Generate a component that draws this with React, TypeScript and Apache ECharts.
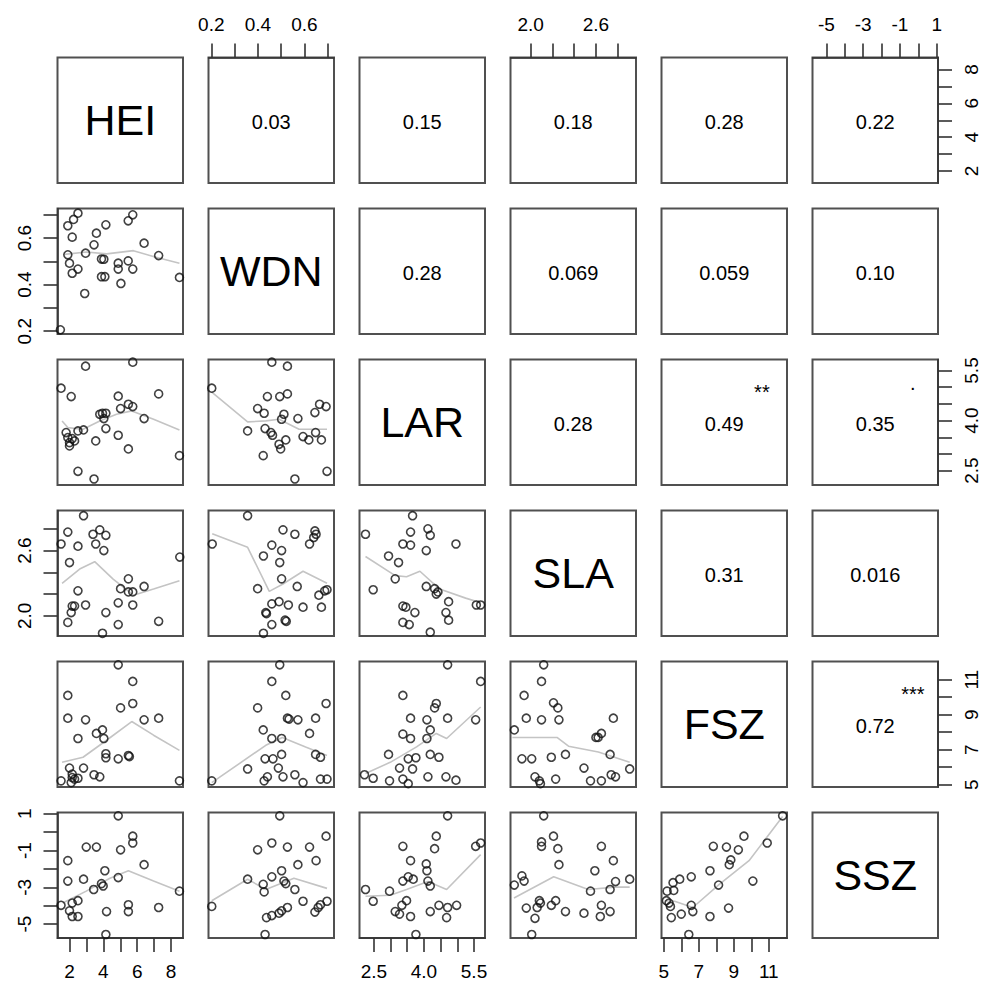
import React, { useEffect, useRef } from 'react';
import * as echarts from 'echarts';

type P = [number, number][];

const VARS = ['HEI', 'WDN', 'LAR', 'SLA', 'FSZ', 'SSZ'];
const AXIS_MIN = [1.29, 0.188, 2.07, 1.815, 4.87, -5.76];
const AXIS_MAX = [8.71, 0.727, 5.83, 2.968, 12.04, 1.07];
const TICKS = [
  [2, 3, 4, 5, 6, 7, 8],
  [0.2, 0.3, 0.4, 0.5, 0.6, 0.7],
  [2.5, 3.0, 3.5, 4.0, 4.5, 5.0, 5.5],
  [2.0, 2.2, 2.4, 2.6, 2.8],
  [5, 6, 7, 8, 9, 10, 11],
  [-5, -4, -3, -2, -1, 0, 1],
];
const TICK_LABELS = [
  [2, 4, 6, 8],
  [0.2, 0.4, 0.6],
  [2.5, 4.0, 5.5],
  [2.0, 2.6],
  [5, 7, 9, 11],
  [-5, -3, -1, 1],
];
const DECIMALS = [0, 1, 1, 1, 0, 0];

// upper-triangle correlation texts, row by row
const CORR_ROW1 = ['0.03', '0.15', '0.18', '0.28', '0.22'];
const CORR_ROW2 = ['0.28', '0.069', '0.059', '0.10'];
const CORR_ROW3 = ['0.28', '0.49', '0.35'];
const CORR_ROW4 = ['0.31', '0.016'];
const CORR_ROW5 = ['0.72'];
const CORR = [CORR_ROW1, CORR_ROW2, CORR_ROW3, CORR_ROW4, CORR_ROW5];
// significance marks: [row, col, text]
const STARS: [number, number, string][] = [
  [2, 4, '**'],
  [2, 5, '.'],
  [4, 5, '***'],
];

// scatter points [x, y]
const wdn_hei: P = [[1.46,0.206],[1.9,0.653],[2.24,0.68],[2.5,0.707],[2.16,0.604],[1.9,0.528],[2.0,0.492],[2.16,0.449],[2.5,0.467],[2.9,0.362],[2.95,0.535],[3.45,0.571],[3.59,0.621],[4.15,0.657],[3.89,0.51],[4.03,0.509],[3.89,0.434],[4.09,0.434],[4.88,0.492],[4.88,0.467],[5.04,0.405],[5.47,0.502],[5.74,0.467],[5.47,0.674],[5.74,0.7],[6.41,0.578],[7.27,0.525],[8.5,0.431]];
const lar_hei: P = [[2.95,5.63],[5.74,5.75],[1.5,4.97],[2.1,4.72],[4.88,4.73],[5.48,4.49],[5.02,4.36],[5.74,4.42],[7.27,4.8],[3.79,4.19],[3.95,4.22],[4.15,4.22],[4.03,4.06],[6.41,4.06],[4.15,3.76],[2.83,3.72],[2.5,3.69],[1.8,3.64],[1.9,3.49],[2.16,3.46],[2.0,3.34],[2.3,3.39],[2.0,3.24],[3.55,3.39],[4.88,3.56],[5.48,3.15],[8.5,2.95],[2.5,2.48],[3.45,2.25]];
const lar_wdn: P = [[0.202,4.97],[0.46,5.75],[0.527,5.63],[0.441,4.72],[0.494,4.72],[0.527,4.8],[0.399,4.36],[0.427,4.22],[0.512,4.19],[0.502,4.04],[0.572,4.06],[0.665,4.49],[0.645,4.24],[0.693,4.42],[0.356,3.69],[0.431,3.76],[0.456,3.64],[0.463,3.56],[0.52,3.42],[0.491,3.29],[0.498,3.15],[0.594,3.52],[0.619,3.42],[0.648,3.64],[0.673,3.42],[0.423,2.95],[0.559,2.25],[0.697,2.48]];
const sla_hei: P = [[2.83,2.92],[1.9,2.77],[1.5,2.66],[2.5,2.64],[2.0,2.49],[3.39,2.75],[3.79,2.79],[4.15,2.74],[3.55,2.66],[4.03,2.6],[8.52,2.54],[5.48,2.34],[5.02,2.25],[5.48,2.22],[5.74,2.22],[6.41,2.27],[4.88,2.12],[5.74,2.1],[2.5,2.23],[2.16,2.09],[2.3,2.09],[2.1,2.03],[2.95,2.1],[4.15,2.03],[1.9,1.94],[4.88,1.92],[3.95,1.84],[7.27,1.95]];
const sla_wdn: P = [[0.356,2.92],[0.204,2.66],[0.508,2.79],[0.559,2.75],[0.645,2.78],[0.65,2.75],[0.64,2.72],[0.622,2.66],[0.46,2.65],[0.502,2.6],[0.424,2.55],[0.494,2.49],[0.502,2.34],[0.399,2.25],[0.569,2.27],[0.662,2.19],[0.697,2.24],[0.687,2.23],[0.46,2.11],[0.491,2.13],[0.531,2.1],[0.594,2.08],[0.673,2.08],[0.434,2.03],[0.437,2.02],[0.517,1.96],[0.522,1.95],[0.46,1.92],[0.424,1.84]];
const sla_lar: P = [[2.25,2.75],[3.66,2.92],[3.6,2.77],[4.12,2.8],[4.19,2.74],[3.37,2.66],[3.6,2.65],[4.07,2.6],[4.96,2.66],[2.94,2.55],[3.24,2.49],[3.14,2.34],[2.48,2.24],[4.07,2.27],[4.32,2.25],[4.37,2.2],[4.42,2.22],[4.74,2.13],[4.66,2.03],[4.74,1.96],[3.37,2.09],[3.46,2.08],[3.73,2.03],[3.37,1.94],[3.56,1.92],[4.19,1.85],[5.57,2.1],[5.7,2.1]];
const fsz_hei: P = [[4.88,11.85],[5.74,10.9],[1.9,10.1],[5.74,9.64],[5.02,9.39],[1.9,8.8],[2.95,8.71],[6.41,8.71],[7.27,8.8],[3.95,8.13],[3.59,7.93],[4.03,7.64],[2.5,7.64],[4.15,6.77],[4.15,6.54],[4.88,6.48],[5.48,6.67],[5.54,6.61],[2.0,5.95],[2.83,5.95],[2.16,5.61],[3.45,5.57],[3.79,5.45],[2.5,5.37],[2.3,5.32],[1.5,5.22],[2.1,5.12],[2.16,5.41],[8.5,5.22]];
const fsz_wdn: P = [[0.494,11.85],[0.46,10.9],[0.52,10.1],[0.693,9.64],[0.399,9.39],[0.527,8.8],[0.534,8.75],[0.572,8.71],[0.648,8.8],[0.423,8.13],[0.46,7.64],[0.502,7.64],[0.622,7.93],[0.502,6.73],[0.431,6.48],[0.465,6.48],[0.648,6.73],[0.669,6.57],[0.356,5.9],[0.488,5.95],[0.508,5.45],[0.559,5.57],[0.441,5.45],[0.427,5.22],[0.594,5.12],[0.669,5.32],[0.697,5.32],[0.202,5.22]];
const fsz_lar: P = [[4.71,11.85],[5.7,10.9],[3.37,10.1],[4.37,9.64],[4.32,9.39],[3.6,8.8],[4.09,8.71],[4.71,8.8],[5.55,8.71],[4.19,8.13],[3.37,7.89],[3.6,7.64],[4.09,7.64],[2.94,6.73],[3.53,6.48],[3.76,6.54],[4.19,6.73],[4.45,6.57],[3.27,5.95],[3.66,5.9],[2.22,5.57],[2.48,5.37],[2.97,5.22],[3.37,5.32],[3.53,5.06],[4.12,5.45],[4.66,5.45],[4.96,5.26]];
const fsz_sla: P = [[2.12,11.85],[2.1,10.9],[1.94,10.1],[2.21,9.68],[2.25,9.39],[1.96,8.8],[2.1,8.71],[2.26,8.71],[2.76,8.8],[1.85,8.13],[2.65,7.93],[2.6,7.7],[2.62,7.7],[1.92,6.48],[2.01,6.48],[2.19,6.57],[2.32,6.73],[2.73,6.73],[2.49,5.95],[2.91,5.9],[2.04,5.45],[2.08,5.22],[2.09,5.06],[2.23,5.32],[2.55,5.22],[2.65,5.22],[2.74,5.57],[2.78,5.45]];
const ssz_hei: P = [[4.88,0.89],[5.74,-0.22],[5.74,-0.59],[2.99,-0.81],[3.59,-0.81],[5.02,-0.96],[1.9,-1.55],[6.41,-1.77],[4.09,-2.1],[1.9,-2.66],[2.83,-2.56],[4.88,-2.47],[3.89,-2.8],[3.99,-2.93],[3.43,-3.12],[8.5,-3.21],[1.5,-3.98],[2.16,-3.86],[2.5,-3.73],[2.0,-4.28],[2.16,-4.59],[2.5,-4.59],[4.19,-4.32],[5.48,-3.95],[5.48,-4.32],[7.27,-4.1],[4.15,-5.57]];
const ssz_wdn: P = [[0.494,0.89],[0.693,-0.22],[0.46,-0.59],[0.399,-0.96],[0.527,-0.81],[0.622,-0.81],[0.65,-1.55],[0.572,-1.77],[0.502,-2.1],[0.46,-2.43],[0.356,-2.56],[0.423,-2.84],[0.512,-2.66],[0.52,-2.8],[0.427,-3.25],[0.559,-3.12],[0.594,-3.76],[0.697,-3.76],[0.669,-3.95],[0.659,-4.1],[0.645,-4.35],[0.527,-4.1],[0.502,-4.28],[0.491,-4.41],[0.46,-4.54],[0.437,-4.65],[0.202,-4.04],[0.431,-5.57]];
const ssz_lar: P = [[4.71,0.89],[4.37,-0.22],[4.32,-0.9],[3.37,-0.77],[5.55,-0.77],[5.7,-0.59],[3.6,-1.55],[4.07,-1.73],[4.09,-2.1],[3.53,-2.43],[3.68,-2.56],[3.37,-2.66],[4.12,-2.66],[4.19,-2.93],[2.25,-3.12],[2.97,-3.21],[2.48,-3.76],[3.48,-3.73],[3.34,-3.98],[3.14,-4.32],[3.27,-4.46],[3.6,-4.59],[4.19,-4.32],[4.45,-3.98],[4.71,-4.1],[4.98,-3.98],[4.68,-4.65],[3.76,-5.57]];
const ssz_sla: P = [[2.12,0.89],[2.21,-0.22],[2.1,-0.53],[2.1,-0.77],[2.25,-0.9],[2.26,-1.77],[2.65,-0.77],[2.76,-1.55],[2.59,-2.1],[1.92,-2.38],[1.94,-2.66],[1.85,-2.88],[2.78,-2.69],[2.91,-2.56],[2.73,-3.12],[2.55,-3.21],[2.08,-3.73],[2.09,-3.86],[2.23,-3.73],[2.19,-3.98],[1.96,-4.13],[2.06,-4.1],[2.32,-4.32],[2.49,-4.41],[2.65,-3.98],[2.73,-4.32],[2.64,-4.59],[2.04,-4.69],[2.01,-5.57]];
const ssz_fsz: P = [[11.79,0.89],[9.58,-0.22],[10.91,-0.59],[7.83,-0.77],[8.58,-0.81],[9.26,-0.96],[8.83,-1.51],[8.74,-1.77],[7.64,-2.1],[10.09,-2.66],[8.13,-2.88],[6.57,-2.43],[5.91,-2.56],[5.53,-2.75],[5.19,-3.21],[5.57,-3.17],[5.15,-3.73],[5.3,-3.86],[5.38,-4.04],[6.57,-3.98],[6.66,-4.32],[6.0,-4.46],[5.43,-4.65],[7.64,-4.59],[8.7,-4.13],[6.43,-5.57]];

// smoother lines [x, y]
const wdn_hei_fit: P = [[1.7,0.53],[3.0,0.54],[4.2,0.532],[5.78,0.546],[7.0,0.52],[8.5,0.492]];
const lar_hei_fit: P = [[1.56,3.99],[1.9,3.79],[2.8,3.74],[3.79,3.99],[4.78,4.19],[5.68,4.29],[6.97,4.04],[8.5,3.72]];
const lar_wdn_fit: P = [[0.202,4.85],[0.356,3.96],[0.434,3.99],[0.491,4.04],[0.534,3.89],[0.577,3.74],[0.697,3.74]];
const sla_hei_fit: P = [[1.56,2.298],[2.6,2.43],[3.49,2.498],[4.58,2.338],[5.78,2.19],[6.97,2.246],[8.5,2.323]];
const sla_wdn_fit: P = [[0.204,2.754],[0.356,2.63],[0.449,2.225],[0.506,2.29],[0.594,2.41],[0.697,2.3]];
const sla_lar_fit: P = [[2.25,2.545],[3.14,2.37],[3.48,2.36],[3.88,2.41],[4.47,2.246],[5.25,2.163],[5.7,2.12]];
const fsz_hei_fit: P = [[1.56,6.28],[2.8,6.57],[4.19,7.54],[5.68,8.61],[6.97,7.83],[8.5,6.96]];
const fsz_wdn_fit: P = [[0.202,5.12],[0.434,7.25],[0.505,7.7],[0.605,7.16],[0.697,6.67]];
const fsz_lar_fit: P = [[2.25,5.64],[2.99,6.28],[3.78,7.16],[4.37,7.93],[4.68,7.64],[5.7,9.44]];
const fsz_sla_fit: P = [[1.832,7.7],[2.242,7.7],[2.348,7.2],[2.622,6.87],[2.91,6.28]];
const ssz_hei_fit: P = [[1.6,-3.86],[2.99,-3.21],[4.39,-2.51],[5.48,-2.1],[6.97,-2.66],[8.5,-3.21]];
const ssz_wdn_fit: P = [[0.202,-3.73],[0.356,-2.56],[0.434,-3.12],[0.555,-2.51],[0.697,-3.06]];
const ssz_lar_fit: P = [[2.25,-3.49],[2.99,-3.43],[3.48,-3.12],[4.12,-2.69],[4.68,-3.12],[5.7,-1.22]];
const ssz_sla_fit: P = [[1.847,-3.58],[2.212,-2.43],[2.53,-3.12],[2.773,-2.99],[2.91,-2.99]];
const ssz_fsz_fit: P = [[5.06,-3.73],[5.62,-3.76],[6.66,-4.1],[8.17,-2.84],[9.87,-1.55],[11.79,0.85]];

const PANELS: Record<string, { pts: P; fit: P }> = {
  '1-0': { pts: wdn_hei, fit: wdn_hei_fit },
  '2-0': { pts: lar_hei, fit: lar_hei_fit },
  '2-1': { pts: lar_wdn, fit: lar_wdn_fit },
  '3-0': { pts: sla_hei, fit: sla_hei_fit },
  '3-1': { pts: sla_wdn, fit: sla_wdn_fit },
  '3-2': { pts: sla_lar, fit: sla_lar_fit },
  '4-0': { pts: fsz_hei, fit: fsz_hei_fit },
  '4-1': { pts: fsz_wdn, fit: fsz_wdn_fit },
  '4-2': { pts: fsz_lar, fit: fsz_lar_fit },
  '4-3': { pts: fsz_sla, fit: fsz_sla_fit },
  '5-0': { pts: ssz_hei, fit: ssz_hei_fit },
  '5-1': { pts: ssz_wdn, fit: ssz_wdn_fit },
  '5-2': { pts: ssz_lar, fit: ssz_lar_fit },
  '5-3': { pts: ssz_sla, fit: ssz_sla_fit },
  '5-4': { pts: ssz_fsz, fit: ssz_fsz_fit },
};

const FONT = '"Liberation Sans", Arial, Helvetica, sans-serif';
const ORIGIN = 57.5;
const STEP = 151;
const SIZE = 125.5;
const BORDER = '#505050';

function makeAxis(v: number, k: number, show: boolean, position: string, isY: boolean) {
  return {
    type: 'value',
    gridIndex: k,
    min: AXIS_MIN[v],
    max: AXIS_MAX[v],
    position,
    show: true,
    axisLine: { show: show, onZero: false, lineStyle: { color: '#333', width: 1.5 } },
    splitLine: { show: false },
    axisTick: {
      show,
      customValues: TICKS[v],
      length: 14,
      inside: false,
      lineStyle: { color: '#333', width: 1.6 },
    },
    axisLabel: {
      show,
      customValues: TICK_LABELS[v],
      margin: 24,
      rotate: isY ? 90 : 0,
      color: '#000',
      fontSize: 19,
      fontFamily: FONT,
      hideOverlap: false,
      formatter: (val: number) => Number(val).toFixed(DECIMALS[v]),
    },
  };
}

function buildOption() {
  const grid: any[] = [];
  const xAxis: any[] = [];
  const yAxis: any[] = [];
  const series: any[] = [];
  const graphic: any[] = [];
  let k = 0;
  for (let r = 0; r < 6; r++) {
    for (let c = 0; c < 6; c++) {
      const left = ORIGIN + STEP * c;
      const top = ORIGIN + STEP * r;
      grid.push({
        left, top, width: SIZE, height: SIZE,
        show: true, borderColor: BORDER, borderWidth: 2,
        backgroundColor: 'transparent', containLabel: false, outerBoundsMode: 'none',
      });
      const showX = (r === 5 && c % 2 === 0) || (r === 0 && c % 2 === 1);
      const showY = (c === 0 && r % 2 === 1) || (c === 5 && r % 2 === 0);
      xAxis.push(makeAxis(c, k, showX, r === 0 ? 'top' : 'bottom', false));
      yAxis.push(makeAxis(r, k, showY, c === 5 ? 'right' : 'left', true));
      if (r > c) {
        const p = PANELS[`${r}-${c}`];
        series.push({
          type: 'line', xAxisIndex: k, yAxisIndex: k, data: p.fit,
          symbol: 'none', showSymbol: false, silent: true, z: 2,
          lineStyle: { color: '#c4c4c4', width: 1.6 },
        });
        series.push({
          type: 'scatter', xAxisIndex: k, yAxisIndex: k, data: p.pts,
          symbol: 'circle', symbolSize: 8, silent: true, z: 3,
          itemStyle: { color: 'rgba(0,0,0,0)', borderColor: '#111', borderWidth: 1.6 },
        });
      } else if (r === c) {
        graphic.push({
          type: 'text', x: left + SIZE / 2, y: top + SIZE / 2,
          style: { text: VARS[r], fontSize: 43, fontFamily: FONT, fill: '#000', align: 'center', verticalAlign: 'middle' },
        });
      } else {
        graphic.push({
          type: 'text', x: left + SIZE / 2, y: top + SIZE / 2 + 2,
          style: { text: CORR[r][c - r - 1], fontSize: 20, fontFamily: FONT, fill: '#000', align: 'center', verticalAlign: 'middle' },
        });
      }
      k++;
    }
  }
  STARS.forEach(([r, c, s]) => {
    const left = ORIGIN + STEP * c;
    const top = ORIGIN + STEP * r;
    const dy = s === '.' ? 0.19 : 0.255;
    graphic.push({
      type: 'text', x: left + SIZE * 0.8, y: top + SIZE * dy,
      style: { text: s, fontSize: 20, fontFamily: FONT, fill: '#000', align: 'center', verticalAlign: 'middle' },
    });
  });
  return {
    animation: false,
    backgroundColor: '#fff',
    grid, xAxis, yAxis, series, graphic,
  };
}

export default function App() {
  const ref = useRef<HTMLDivElement>(null);
  useEffect(() => {
    if (!ref.current) return;
    const chart = echarts.init(ref.current, null, { renderer: 'svg' });
    chart.setOption(buildOption() as any);
    return () => chart.dispose();
  }, []);
  return (
    <div
      ref={ref}
      style={{ position: 'absolute', left: 0, top: 0, width: 990, height: 992, background: '#fff' }}
    />
  );
}
